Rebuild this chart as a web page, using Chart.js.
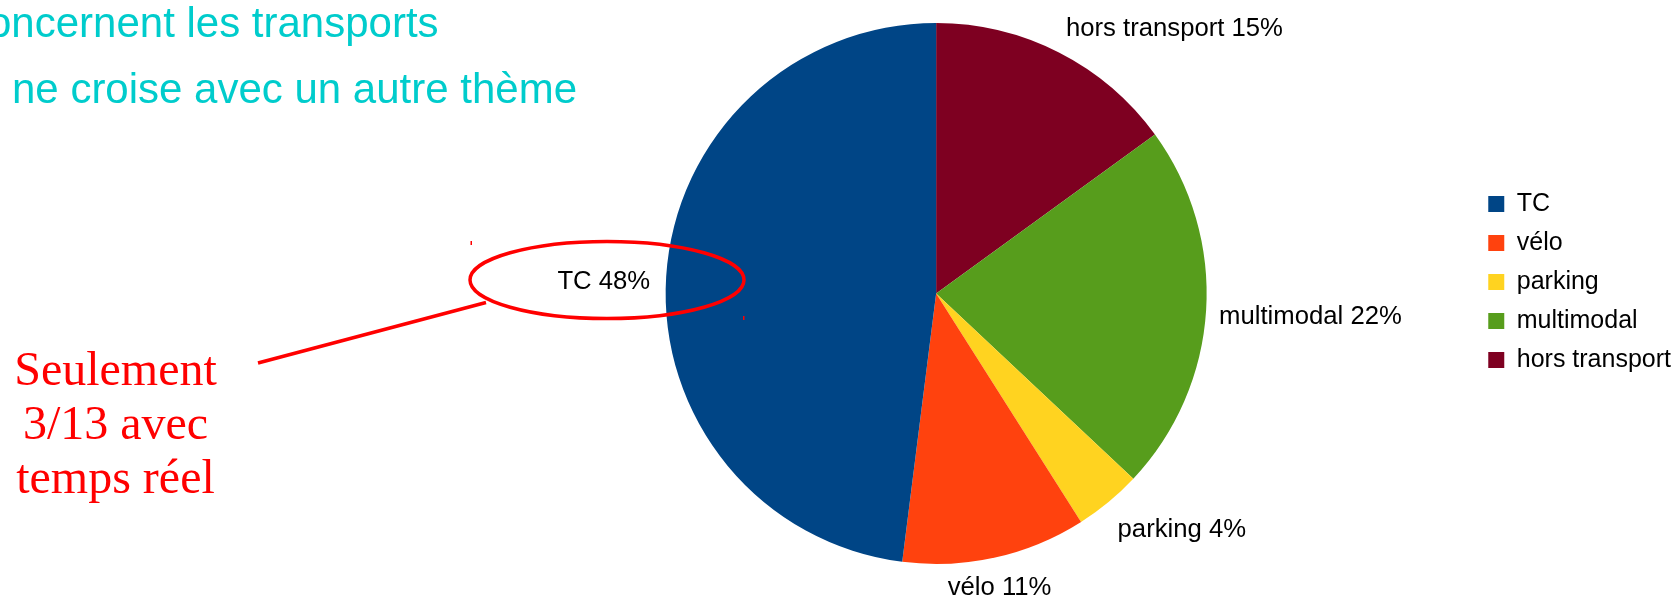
<!DOCTYPE html>
<html>
<head>
    <meta charset="utf-8">
    <title>Thèmes des applications</title>
    <script src="https://cdn.jsdelivr.net/npm/chart.js"></script>
    <style>
        body {
            margin: 0;
            background: #ffffff;
            overflow: hidden;
        }
        .stage {
            position: relative;
            width: 1675px;
            height: 597px;
        }
        .heading {
            position: absolute;
            font-family: "Liberation Sans", Arial, sans-serif;
            font-size: 42px;
            line-height: 42px;
            color: #00cccc;
            white-space: nowrap;
        }
        .note {
            position: absolute;
            left: 0;
            top: 342px;
            width: 231px;
            text-align: center;
            font-family: "Liberation Serif", "Times New Roman", serif;
            font-size: 48px;
            line-height: 54px;
            color: #ff0000;
        }
    </style>
</head>
<body>
    <div class="stage">
        <canvas id="pieChart"></canvas>
        <div class="heading" style="left: -12px; top: 2px;">oncernent les transports</div>
        <div class="heading" style="left: 12px; top: 68px;">ne croise avec un autre thème</div>
        <div class="note">Seulement<br>3/13 avec<br>temps réel</div>
    </div>

    <script>
        // Data, in legend order
        const categories = ['TC', 'vélo', 'parking', 'multimodal', 'hors transport'];
        const shares = [48, 11, 4, 22, 15];
        const colours = ['#004586', '#ff420e', '#ffd320', '#579d1c', '#7e0021'];

        // The original pie runs counter-clockwise from 12 o'clock,
        // Chart.js runs clockwise, so feed the slices in reverse
        const pieLabels = categories.slice().reverse();
        const pieValues = shares.slice().reverse();
        const pieColours = colours.slice().reverse();

        const labelFont = '25.7px "Liberation Sans", Arial, sans-serif';

        // "TC 48%" style labels outside each slice
        const sliceLabels = {
            id: 'sliceLabels',
            afterDatasetsDraw(chart) {
                const ctx = chart.ctx;
                const meta = chart.getDatasetMeta(0);
                ctx.save();
                ctx.font = labelFont;
                ctx.fillStyle = '#000000';
                ctx.textBaseline = 'alphabetic';
                meta.data.forEach((arc, i) => {
                    const p = arc.getProps(['x', 'y', 'startAngle', 'endAngle', 'outerRadius'], true);
                    const mid = (p.startAngle + p.endAngle) / 2;
                    const dx = Math.cos(mid);
                    const dy = Math.sin(mid);
                    const px = p.x + dx * (p.outerRadius + 11);
                    const py = p.y + dy * (p.outerRadius + 11);
                    const text = chart.data.labels[i] + ' ' + chart.data.datasets[0].data[i] + '%';

                    let tx = px + 2;
                    ctx.textAlign = 'left';
                    if (dx < -0.4) {
                        ctx.textAlign = 'right';
                        tx = px - 5;
                    } else if (dx <= 0.4) {
                        ctx.textAlign = 'center';
                    }
                    let ty = py + 13;
                    if (dy < -0.4) ty = py - 7;
                    else if (dy > 0.4) ty = py + 27;
                    ctx.fillText(text, tx, ty);
                });
                ctx.restore();
            }
        };

        // red hand-drawn annotation on top of the chart
        const annotation = {
            id: 'annotation',
            afterDraw(chart) {
                const ctx = chart.ctx;
                ctx.save();
                ctx.strokeStyle = '#ff0000';
                ctx.fillStyle = '#ff0000';
                ctx.lineWidth = 3.5;
                ctx.beginPath();
                ctx.ellipse(607, 280, 137, 38.5, 0, 0, Math.PI * 2);
                ctx.stroke();
                ctx.beginPath();
                ctx.moveTo(258, 363);
                ctx.lineTo(486, 302.5);
                ctx.stroke();
                ctx.fillRect(470.5, 241, 1.5, 4);
                ctx.fillRect(743, 316, 1.5, 4);
                ctx.restore();
            }
        };

        const ctx = document.getElementById('pieChart').getContext('2d');
        const pieChart = new Chart(ctx, {
            type: 'pie',
            data: {
                labels: pieLabels,
                datasets: [{
                    data: pieValues,
                    backgroundColor: pieColours,
                    borderWidth: 0
                }]
            },
            options: {
                responsive: true,
                maintainAspectRatio: false,
                animation: false,
                layout: {
                    padding: { left: 398, right: -6, top: 0, bottom: 33 }
                },
                plugins: {
                    // empty title only used to push the pie down a little
                    title: {
                        display: true,
                        text: '',
                        padding: 0,
                        font: { size: 23, lineHeight: 1 }
                    },
                    legend: {
                        position: 'right',
                        reverse: true,
                        labels: {
                            boxWidth: 16,
                            boxHeight: 16,
                            padding: 14,
                            color: '#000000',
                            font: { family: '"Liberation Sans", Arial, sans-serif', size: 25 }
                        }
                    },
                    tooltip: { enabled: false }
                }
            },
            plugins: [sliceLabels, annotation]
        });
    </script>
</body>
</html>
